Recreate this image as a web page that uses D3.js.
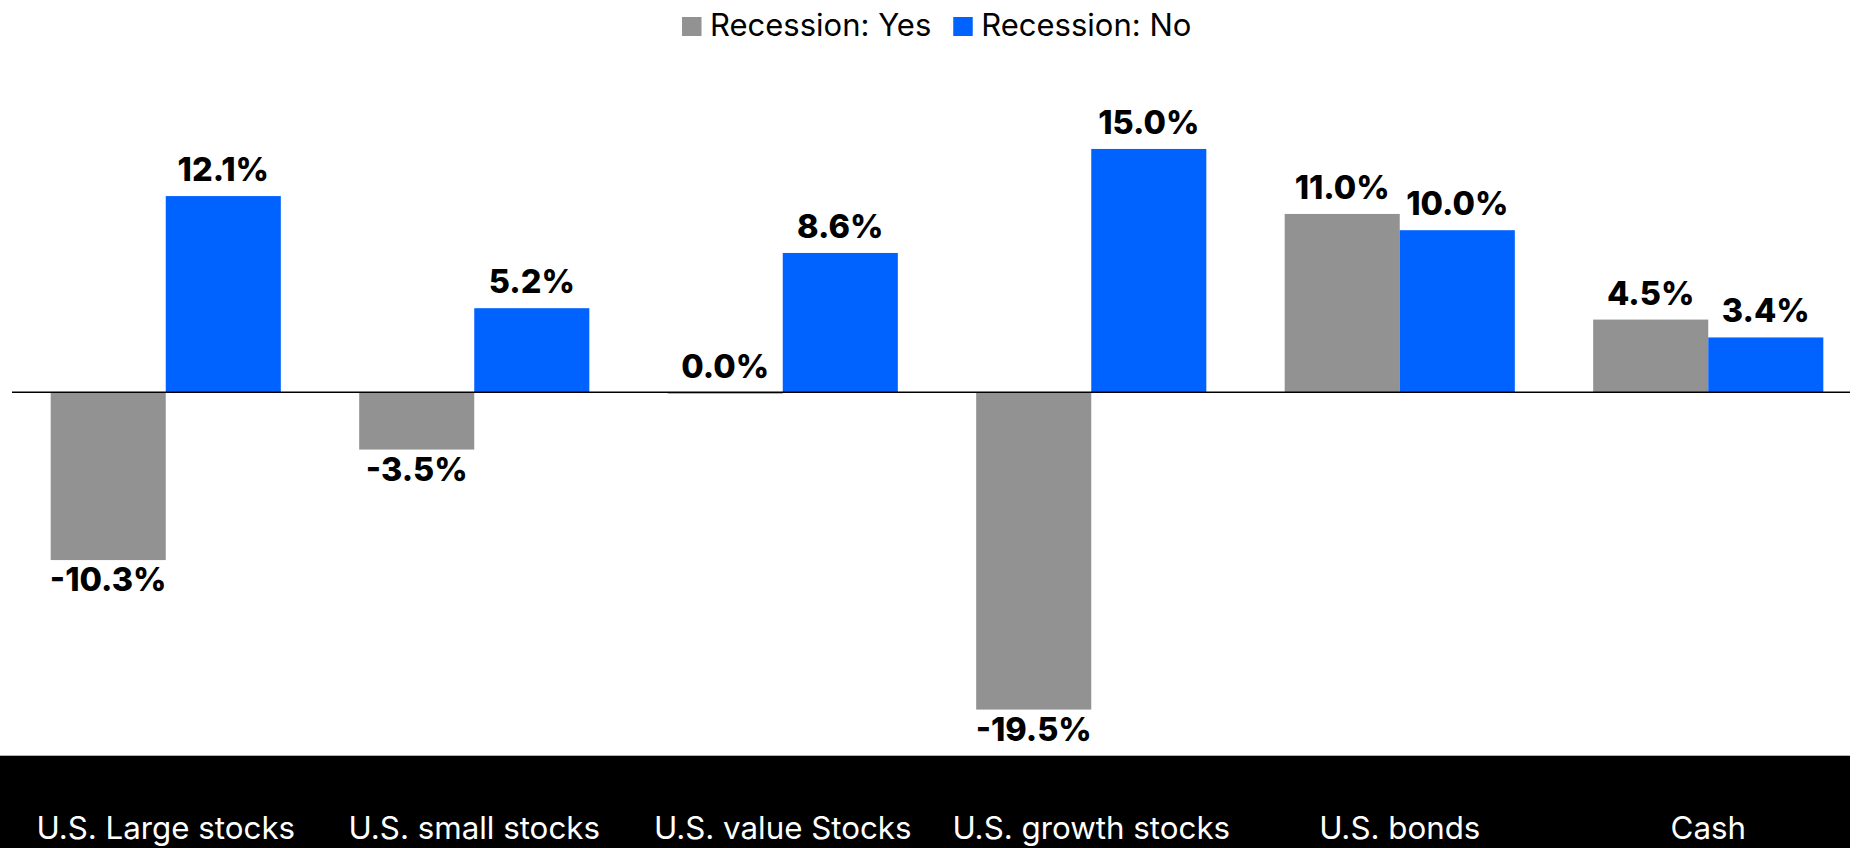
<!DOCTYPE html>
<html>
<head>
<meta charset="utf-8">
<script src="https://cdn.jsdelivr.net/npm/d3@7"></script>
<style>
  html, body { margin: 0; padding: 0; background: #fff; }
  svg { display: block; }
</style>
</head>
<body>
<svg id="chart" width="1850" height="848"></svg>
<script>
// Asset classes shown along the x axis
const categories = ["U.S. Large stocks", "U.S. small stocks", "U.S. value Stocks", "U.S. growth stocks", "U.S. bonds", "Cash"];
// Series names and their average returns (%)
const seriesNames = ["Recession: Yes", "Recession: No"];
const recessionYes = [-10.3, -3.5, 0.0, -19.5, 11.0, 4.5];
const recessionNo = [12.1, 5.2, 8.6, 15.0, 10.0, 3.4];
const seriesColors = ["#929292", "#0062FF"];

const W = 1850, H = 848;
const svg = d3.select("#chart");
const FONT = "Inter, 'Noto Sans', 'Liberation Sans', sans-serif";

const series = [recessionYes, recessionNo];
const rows = categories.map((c, i) => ({
  category: c,
  values: series.map((s, k) => ({ key: seriesNames[k], value: s[i], k }))
}));

// Scales
const x0 = d3.scaleBand()
  .domain(categories)
  .range([11.5, 1862.5])
  .paddingInner(0.254)
  .paddingOuter(0.127);

const x1 = d3.scaleBand()
  .domain(seriesNames)
  .range([0, x0.bandwidth()])
  .padding(0);

const y = d3.scaleLinear()
  .domain([-20, 16])
  .range([717.7, 132.7]);

const color = d3.scaleOrdinal().domain(seriesNames).range(seriesColors);

// Bars
const groups = svg.append("g").attr("class", "bars")
  .selectAll("g")
  .data(rows)
  .join("g")
  .attr("transform", d => `translate(${x0(d.category)},0)`);

groups.selectAll("rect")
  .data(d => d.values)
  .join("rect")
  .attr("x", d => x1(d.key))
  .attr("width", x1.bandwidth())
  .attr("y", d => Math.min(y(d.value), y(0)))
  .attr("height", d => Math.max(1, Math.abs(y(d.value) - y(0))))
  .attr("fill", d => color(d.key));

// Zero baseline
svg.append("line")
  .attr("x1", 12).attr("x2", W)
  .attr("y1", y(0) - 0.5).attr("y2", y(0) - 0.5)
  .attr("stroke", "#000")
  .attr("stroke-width", 1.6);

// Value labels
groups.selectAll("text.value")
  .data(d => d.values)
  .join("text")
  .attr("class", "value")
  .attr("x", d => x1(d.key) + x1.bandwidth() / 2)
  .attr("y", d => d.value < 0 ? y(d.value) + 31 : y(d.value) - 15)
  .attr("text-anchor", "middle")
  .attr("font-family", FONT)
  .attr("font-weight", 800)
  .attr("font-size", 32.5)
  .attr("fill", "#000")
  .text(d => d.value.toFixed(1) + "%");

// Category axis band
const axisTop = 755.7;
svg.append("rect")
  .attr("x", 0).attr("y", axisTop)
  .attr("width", W).attr("height", H - axisTop)
  .attr("fill", "#000");

const xAxis = d3.axisBottom(x0).tickSize(0).tickPadding(0);
const axisG = svg.append("g")
  .attr("transform", `translate(0,${axisTop})`)
  .call(xAxis);
axisG.select(".domain").remove();
axisG.selectAll("text")
  .attr("dy", null)
  .attr("y", 83.5)
  .attr("fill", "#fff")
  .attr("font-family", FONT)
  .attr("font-size", 31.3)
  .attr("font-weight", 400);

// Legend
const legend = svg.append("g").attr("class", "legend");
let lx = 682;
seriesNames.forEach((name, k) => {
  legend.append("rect")
    .attr("x", lx).attr("y", 17)
    .attr("width", 19.5).attr("height", 19)
    .attr("fill", seriesColors[k]);
  const t = legend.append("text")
    .attr("x", lx + 28).attr("y", 36)
    .attr("font-family", FONT)
    .attr("font-size", 31)
    .attr("fill", "#000")
    .text(name);
  lx = lx + 28 + t.node().getComputedTextLength() + 22;
});
</script>
</body>
</html>
